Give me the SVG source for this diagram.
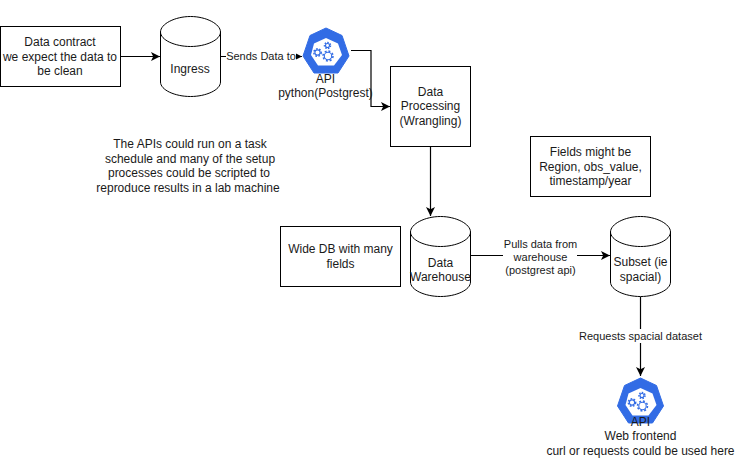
<svg xmlns="http://www.w3.org/2000/svg" width="735" height="458" viewBox="0 0 735 458">
<style>
text{font-family:"Liberation Sans",Arial,sans-serif;font-size:12px;fill:#1a1a1a;text-anchor:middle}
.s{font-size:11px}
.b{fill:#fff;stroke:#000;stroke-width:1}
.c{fill:none;stroke:#000;stroke-width:1}
.l{fill:none;stroke:#000;stroke-width:1.2;marker-end:url(#a)}
.h{fill:#326ce5}
.w{fill:#fff}
.g{fill:none;stroke:#326ce5;stroke-width:1.1}
.t{fill:none;stroke:#326ce5;stroke-width:1.5}
</style>
<defs>
<marker id="a" markerUnits="userSpaceOnUse" markerWidth="11" markerHeight="11" refX="9" refY="4.500" orient="auto"><path d="M0 0L9 4.500L0 9L2.200 4.500Z" fill="#000"/></marker>
<symbol id="k" viewBox="0 0 46 46" overflow="visible">
<path class="h" d="M23 0L39 7.500L46 28L35 45L11 45L0 28L7 7.500Z" stroke="#326ce5" stroke-width="1" stroke-linejoin="round"/>
<path class="w" d="M23 10L35 15.500L39 27L31 37.500L15 37.500L8 27L11 15.500Z"/>
<circle class="g" cx="14.500" cy="24.500" r="2.600"/><circle class="t" cx="14.500" cy="24.500" r="3.700" stroke-dasharray="1.700 1.400"/>
<circle class="g" cx="24.500" cy="17.500" r="2"/><circle class="t" cx="24.500" cy="17.500" r="3" stroke-dasharray="1.500 1.200"/>
<circle class="g" cx="25" cy="28" r="3.700"/><circle class="t" cx="25" cy="28" r="5" stroke-dasharray="2 1.900"/>
</symbol>
</defs>
<rect width="735" height="458" fill="#fff"/>
<g id="connectors">
<path class="l" d="M120 56.500H160"/>
<path class="l" d="M221 56.500H302"/>
<path class="l" d="M351 50.500H371V106.500H390"/>
<path class="l" d="M430.500 147V216"/>
<path class="l" d="M471 255.500H610"/>
<path class="l" d="M640.500 297V376"/>
</g>
<g id="contract"><rect class="b" x="0.500" y="26.500" width="120" height="60"/><text x="60" y="46">Data contract</text><text x="60" y="60.500">we expect the data to</text><text x="60" y="75">be clean</text></g>
<g id="ingress"><path class="b" d="M160.500 32V82C160.500 90 175 96.500 190.500 96.500S220.500 90 220.500 82V32C220.500 24 206 16.500 190.500 16.500S160.500 24 160.500 32Z"/><path class="c" d="M160.500 32C160.500 40 175 46.500 190.500 46.500S220.500 40 220.500 32"/><text x="190" y="73">Ingress</text></g>
<g id="label-sends"><rect x="226" y="50" width="70" height="13" fill="#fff"/><text class="s" x="261" y="60">Sends Data to</text></g>
<g id="api-python"><use href="#k" x="303" y="28" width="46" height="46"/><text x="325.500" y="83">API</text><text x="325.500" y="97">python(Postgrest)</text></g>
<g id="processing"><rect class="b" x="390.500" y="66.500" width="80" height="80"/><text x="430.500" y="95.500">Data</text><text x="430.500" y="110">Processing</text><text x="430.500" y="124.500">(Wrangling)</text></g>
<g id="note-apis"><text x="190" y="148">The APIs could run on a task</text><text x="190" y="162.500">schedule and many of the setup</text><text x="189" y="177">processes could be scripted to</text><text x="188" y="191.500">reproduce results in a lab machine</text></g>
<g id="note-fields"><rect class="b" x="530.500" y="136.500" width="120" height="60"/><text x="590.500" y="156">Fields might be</text><text x="590.500" y="170.500">Region, obs_value,</text><text x="590.500" y="185">timestamp/year</text></g>
<g id="note-wide"><rect class="b" x="280.500" y="226.500" width="120" height="60"/><text x="340.500" y="253">Wide DB with many</text><text x="340.500" y="267.500">fields</text></g>
<g id="warehouse"><path class="b" d="M410.500 232V282C410.500 290 425 296.500 440.500 296.500S470.500 290 470.500 282V232C470.500 224 456 216.500 440.500 216.500S410.500 224 410.500 232Z"/><path class="c" d="M410.500 232C410.500 240 425 246.500 440.500 246.500S470.500 240 470.500 232"/><text x="440.500" y="266.500">Data</text><text x="440.500" y="281">Warehouse</text></g>
<g id="label-pulls"><rect x="503" y="238" width="74" height="40" fill="#fff"/><text class="s" x="540.500" y="247.500">Pulls data from</text><text class="s" x="540.500" y="260.500">warehouse</text><text class="s" x="540.500" y="273.500">(postgrest api)</text></g>
<g id="subset"><path class="b" d="M610.500 232V282C610.500 290 625 296.500 640.500 296.500S670.500 290 670.500 282V232C670.500 224 656 216.500 640.500 216.500S610.500 224 610.500 232Z"/><path class="c" d="M610.500 232C610.500 240 625 246.500 640.500 246.500S670.500 240 670.500 232"/><text x="640.500" y="266">Subset (ie</text><text x="640.500" y="281">spacial)</text></g>
<g id="label-requests"><rect x="578" y="329" width="126" height="14" fill="#fff"/><text class="s" x="640.500" y="340">Requests spacial dataset</text></g>
<g id="api-web"><use href="#k" x="617" y="378" width="47" height="46"/><text x="640.500" y="426">API</text><text x="640.500" y="440">Web frontend</text><text x="640.500" y="455">curl or requests could be used here</text></g>
</svg>
